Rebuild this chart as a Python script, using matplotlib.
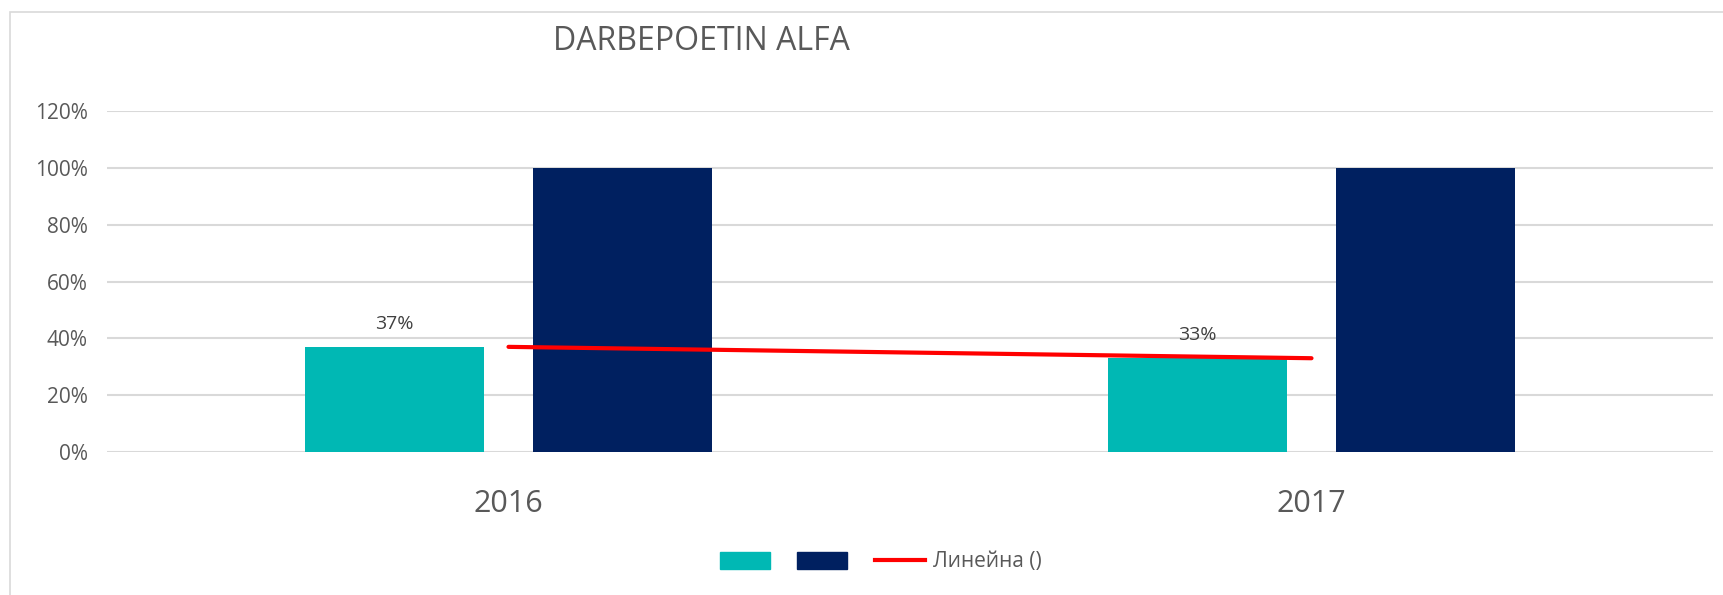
import matplotlib
matplotlib.use("Agg")
import matplotlib.pyplot as plt
from matplotlib.patches import Rectangle
from matplotlib.lines import Line2D

plt.rcParams['font.family'] = ['Open Sans', 'DejaVu Sans']

# Daten
years = ["2016", "2017"]
series_a = [0.37, 0.33]
series_b = [1.00, 1.00]
trend_vals = [0.37, 0.33]
y_ticks = [0, 0.2, 0.4, 0.6, 0.8, 1.0, 1.2]
y_tick_labels = ["0%", "20%", "40%", "60%", "80%", "100%", "120%"]

teal = "#00B8B4"
navy = "#002060"
grey_txt = "#595959"

fig = plt.figure(figsize=(17.24, 5.95), dpi=100)
fig.patches.append(Rectangle((10 / 1724, -0.05), 1.2, 1 - 12 / 595 + 0.05,
                             transform=fig.transFigure, fill=False,
                             edgecolor="#D9D9D9", linewidth=1.2))

ax = fig.add_axes([107 / 1724, 1 - 452 / 595, (1713 - 107) / 1724, (452 - 111) / 595])

x = list(range(len(years)))
w = 0.223
off = 0.1425
ax.bar([i - off for i in x], series_a, width=w, color=teal, zorder=2)
ax.bar([i + off for i in x], series_b, width=w, color=navy, zorder=2)
ax.plot(x, trend_vals, color="#FF0000", linewidth=3, solid_capstyle="round", zorder=3)

# Datenbeschriftungen
for i, v in zip(x, series_a):
    ax.text(i - off, v + 0.05, f"{round(v * 100)}%", ha="center", va="bottom",
            fontsize=14, color="#404040")

ax.set_xlim(-0.5, 1.5)
ax.set_ylim(0, 1.2)
ax.set_yticks(y_ticks)
ax.set_yticklabels(y_tick_labels, fontsize=15, color=grey_txt)
ax.set_xticks(x)
ax.set_xticklabels(years, fontsize=22, color=grey_txt)
ax.tick_params(axis="both", length=0)
ax.tick_params(axis="x", pad=27)
ax.tick_params(axis="y", pad=14)
ax.grid(axis="y", color="#D9D9D9", linewidth=1.5, zorder=0)
for s in ax.spines.values():
    s.set_visible(False)

fig.text(553 / 1724, 1 - 42 / 595, "DARBEPOETIN ALFA", ha="left", va="center",
         fontsize=23, color=grey_txt)

handles = [Rectangle((0, 0), 1, 1, color=teal),
           Rectangle((0, 0), 1, 1, color=navy),
           Line2D([0], [0], color="#FF0000", linewidth=3)]
fig.legend(handles, ["", "", "Линейна ()"], loc="center", bbox_to_anchor=(881 / 1724, 1 - 562 / 595),
           ncol=3, frameon=False, fontsize=15, labelcolor=grey_txt,
           handlelength=2.4, handleheight=0.9, columnspacing=0.9, handletextpad=0.4)

fig.savefig("out.png", dpi=100)
